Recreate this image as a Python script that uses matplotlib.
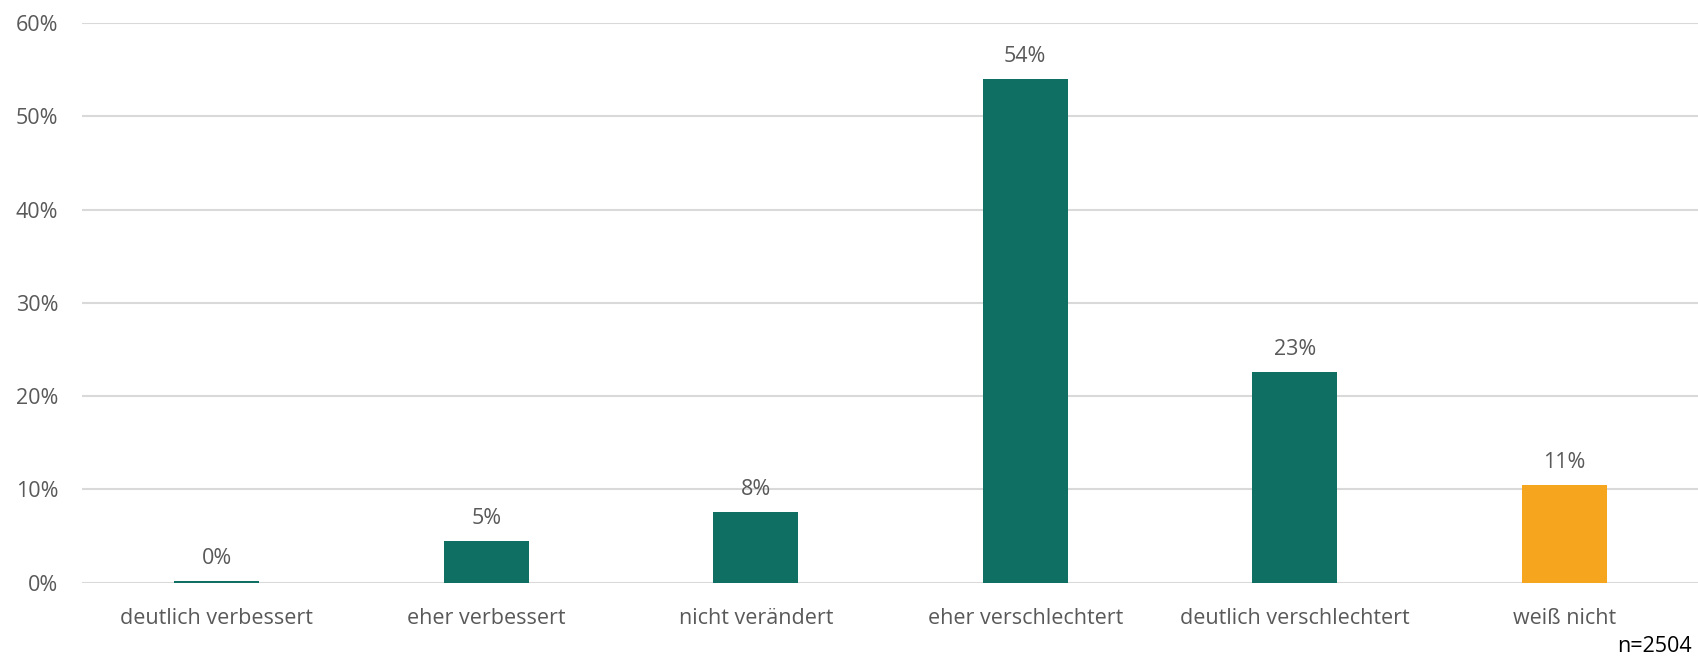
import matplotlib.pyplot as plt
from matplotlib.ticker import PercentFormatter

categories = ["deutlich verbessert", "eher verbessert", "nicht verändert",
              "eher verschlechtert", "deutlich verschlechtert", "weiß nicht"]
values = [0.2, 4.5, 7.6, 54.0, 22.6, 10.5]
labels = ["0%", "5%", "8%", "54%", "23%", "11%"]
colors = ["#0E6F62"] * 5 + ["#F5A51E"]

plt.rcParams['font.family'] = ['Open Sans', 'DejaVu Sans']
grey = "#595959"

fig = plt.figure(figsize=(16.99, 6.59), dpi=100)
ax = fig.add_axes([82 / 1699, 1 - 582.7 / 659, (1699 - 82) / 1699, (582.7 - 23) / 659])

x = range(len(categories))
ax.bar(x, values, width=0.315, color=colors, zorder=2)
for xi, v, lab in zip(x, values, labels):
    ax.text(xi, v + 1.3, lab, ha='center', va='bottom', fontsize=15.5, color=grey)

ax.set_xlim(-0.5, len(categories) - 0.5)
ax.set_ylim(0, 60)
ax.set_yticks(range(0, 61, 10))
ax.yaxis.set_major_formatter(PercentFormatter(decimals=0))
ax.set_xticks(list(x))
ax.set_xticklabels(categories)
ax.tick_params(axis='both', length=0, labelsize=15.5, labelcolor=grey)
ax.tick_params(axis='x', pad=18)
ax.tick_params(axis='y', pad=17)
ax.grid(axis='y', color='#D9D9D9', linewidth=1.5, zorder=0)
for s in ax.spines.values():
    s.set_visible(False)

fig.text(1692 / 1699, 1 - 657 / 659, "n=2504", ha='right', va='bottom', fontsize=15.5, color='black')

fig.savefig("out.png", dpi=100)
